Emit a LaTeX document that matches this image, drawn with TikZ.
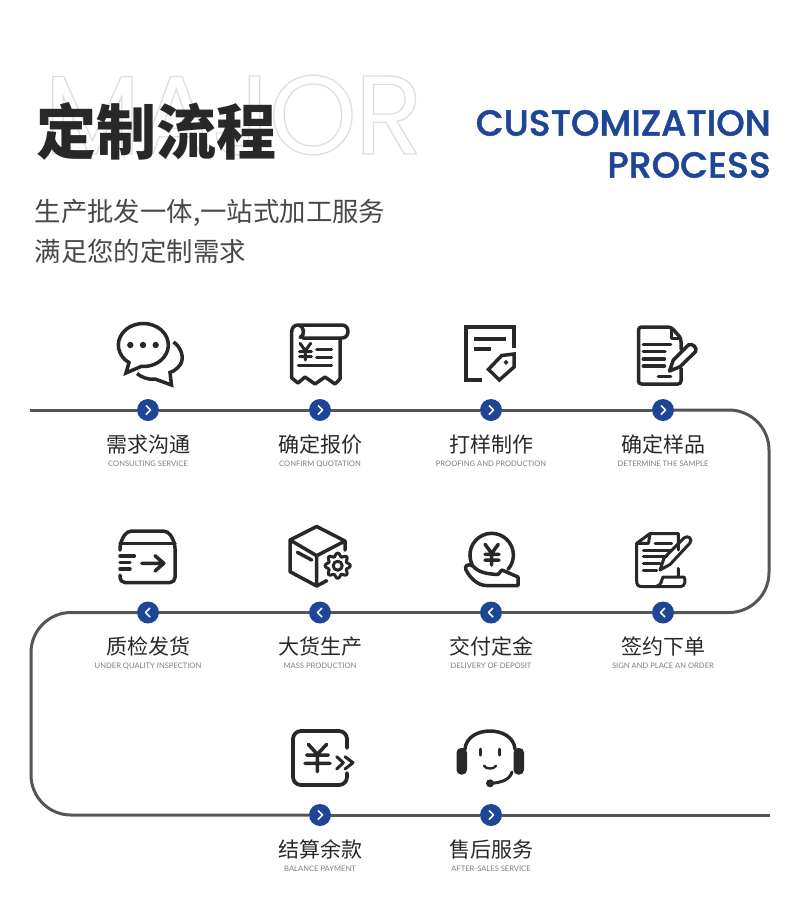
\documentclass[tikz,border=0pt]{standalone}
\usepackage{fontspec}
\setmainfont{Noto Sans CJK SC}
\newfontfamily\popfont{Poppins}[LetterSpace=-2]
\newfontfamily\popmed{Poppins Medium}[FakeBold=1.3]
\newfontfamily\latofont{Lato}
\usetikzlibrary{calc,positioning}
\definecolor{cblue}{RGB}{31,70,150}
\definecolor{cink}{RGB}{40,40,40}
\definecolor{ctrack}{RGB}{85,85,85}
\definecolor{cgrey}{RGB}{125,125,125}
\newcommand{\outlined}[1]{\special{pdf: code q 1 Tr 1.3 w 0.87 0.87 0.87 RG}#1\special{pdf: code Q}}
\tikzset{
  title/.style={anchor=west,inner sep=0pt,font=\fontsize{60}{60}\selectfont\bfseries,text=cink},
  subline/.style={anchor=west,inner sep=0pt,font=\fontsize{26.4}{26.4}\selectfont,text=cink!85},
  entitle/.style={anchor=east,inner sep=0pt,font=\fontsize{36.2}{36.2}\popmed,text=cblue},
  % dots on the track: chevron points the way the track runs
  dotr/.style={circle,fill=cblue,minimum size=22pt,inner sep=0pt,
    path picture={\draw[white,line width=1.7pt,line join=round]
      ($(path picture bounding box.center)+(-2,-4.5)$) -- ++(4.5,4.5) -- ++(-4.5,4.5);}},
  dotl/.style={circle,fill=cblue,minimum size=22pt,inner sep=0pt,
    path picture={\draw[white,line width=1.7pt,line join=round]
      ($(path picture bounding box.center)+(2,-4.5)$) -- ++(-4.5,4.5) -- ++(4.5,4.5);}},
  zhlab/.style={inner sep=0pt,text height=18pt,text depth=3pt,font=\fontsize{21}{21}\selectfont,text=cink},
  enlab/.style={inner sep=0pt,text height=5.5pt,text depth=0pt,font=\fontsize{7.6}{7.6}\latofont,text=cgrey},
  track/.style={draw=ctrack,line width=3pt,rounded corners=40pt},
  icon/.style={draw=cink,line width=3.5pt,line cap=round,line join=round},
  thinicon/.style={icon,line width=3pt},
  iconf/.style={fill=cink,draw=none}
}
\begin{document}
\begin{tikzpicture}[x=1pt,y=-1pt]
  \useasboundingbox (0,0) rectangle (800,922);
  % heading
  \node[anchor=west,inner sep=0pt,font=\fontsize{112}{112}\popfont] (major) at (44,115)
    {\outlined{MAJOR}};
  \node[title] (head) at (36,131) {定制流程};
  \node[entitle] (en1) at (771,123) {CUSTOMIZATION};
  \node[entitle] (en2) at (771,165) {PROCESS};
  \node[subline] (sub1) at (34.5,212.5) {生产批发一体,一站式加工服务};
  \node[subline] (sub2) at (34.5,251.5) {满足您的定制需求};

  % first row
  \node[dotr] (d1) at (148,410) {};
  \node[zhlab, below=13pt of d1] (z1) {需求沟通};
  \node[enlab, below=5pt of z1] (e1) {CONSULTING SERVICE};
  \node[dotr] (d2) at (320,410) {};
  \node[zhlab, below=13pt of d2] (z2) {确定报价};
  \node[enlab, below=5pt of z2] (e2) {CONFIRM QUOTATION};
  \node[dotr] (d3) at (491,410) {};
  \node[zhlab, below=13pt of d3] (z3) {打样制作};
  \node[enlab, below=5pt of z3] (e3) {PROOFING AND PRODUCTION};
  \node[dotr] (d4) at (663,410) {};
  \node[zhlab, below=13pt of d4] (z4) {确定样品};
  \node[enlab, below=5pt of z4] (e4) {DETERMINE THE SAMPLE};
  % second row, right to left
  \node[dotl] (d5) at (663,612.5) {};
  \node[zhlab, below=13pt of d5] (z5) {签约下单};
  \node[enlab, below=5pt of z5] (e5) {SIGN AND PLACE AN ORDER};
  \node[dotl] (d6) at (491,612.5) {};
  \node[zhlab, below=13pt of d6] (z6) {交付定金};
  \node[enlab, below=5pt of z6] (e6) {DELIVERY OF DEPOSIT};
  \node[dotl] (d7) at (320,612.5) {};
  \node[zhlab, below=13pt of d7] (z7) {大货生产};
  \node[enlab, below=5pt of z7] (e7) {MASS PRODUCTION};
  \node[dotl] (d8) at (148,612.5) {};
  \node[zhlab, below=13pt of d8] (z8) {质检发货};
  \node[enlab, below=5pt of z8] (e8) {UNDER QUALITY INSPECTION};
  % third row
  \node[dotr] (d9) at (320,815) {};
  \node[zhlab, below=13pt of d9] (z9) {结算余款};
  \node[enlab, below=5pt of z9] (e9) {BALANCE PAYMENT};
  \node[dotr] (d10) at (491,815) {};
  \node[zhlab, below=13pt of d10] (z10) {售后服务};
  \node[enlab, below=5pt of z10] (e10) {AFTER-SALES SERVICE};

  % track
  \coordinate (tstart) at (30,410);
  \coordinate (tend) at (770,815);
  \coordinate (ctr) at (769,410);
  \coordinate (cr) at (769,612.5);
  \coordinate (cl) at (31,612.5);
  \coordinate (cb) at (31,815);
  \draw[track] (tstart) -- (d1);
  \draw[track] (d1) -- (d2);
  \draw[track] (d2) -- (d3);
  \draw[track] (d3) -- (d4);
  \draw[track] (d4) -- (ctr) -- (cr) -- (d5);
  \draw[track] (d5) -- (d6);
  \draw[track] (d6) -- (d7);
  \draw[track] (d7) -- (d8);
  \draw[track] (d8) -- (cl) -- (cb) -- (d9);
  \draw[track] (d9) -- (d10);
  \draw[track] (d10) -- (tend);

  % chat
  \draw[icon,line join=miter] (129,362.6) arc[start angle=235,end angle=-95,x radius=25pt,y radius=21.5pt] -- (126,373) -- cycle;
  \draw[icon,line join=miter,line cap=butt] (173.5,342) .. controls (181,347) and (185,358) .. (180,365) .. controls (177,369) and (174,371) .. (170,372.5) -- (171.5,385) -- (155,379) .. controls (148,380) and (141,377) .. (137,373.5);
  \fill[iconf] (130.3,345) circle[radius=3.2pt] (143,345) circle[radius=3.2pt] (155.7,345) circle[radius=3.2pt];
  % receipt
  \draw[icon] (291.7,378) -- (291.7,332) .. controls (291.7,328) and (294,325) .. (298,325) -- (342,325) .. controls (350,325) and (350,338) .. (342,338) -- (303,338) (298,325) .. controls (305,326) and (305,336) .. (300,337.5);
  \draw[icon] (340,338) -- (340,379) -- (335,384) -- (325,377) -- (315,384) -- (305,377) -- (298,383) -- (291.7,378);
  \draw[thinicon] (300,343.3) -- (305.3,350.7) -- (310.7,343.3) (299.5,351.7) -- (311.5,351.7) (299.5,356.7) -- (311.5,356.7) (305.3,350.7) -- (305.3,360);
  \draw[thinicon] (316.7,349.3) -- (331.7,349.3) (316.7,357.7) -- (331.7,357.7) (298.3,365) -- (331.7,365);
  % sheet with tag
  \draw[icon,line width=4pt,line join=miter,line cap=butt] (514,348.3) -- (514,327) -- (466,327) -- (466,380) -- (481.7,380);
  \draw[icon,line width=4pt,line cap=butt] (474.3,339.3) -- (505.7,339.3) (474.3,349) -- (491,349);
  \draw[icon,line width=3.5pt,line join=miter] (514,354) -- (514,367) -- (499.3,380) -- (488.5,369.3) -- (501.7,355.5) -- cycle;
  \fill[iconf] (506,359.8) -- (508.5,362.3) -- (506,364.8) -- (503.5,362.3) -- cycle;
  % document with pen
  \draw[icon,rounded corners=3pt] (681,349) -- (681,338.3) -- (671,327) -- (638.5,327) -- (638.5,384) -- (681,384) -- (681,368);
  \draw[thinicon] (671.7,327.5) -- (671.7,338.3) -- (680.5,338.3);
  \draw[icon] (643.3,344.3) -- (670.7,344.3) (643.3,351.7) -- (665,351.7) (643.3,359) -- (664.3,359) (643.3,366) -- (664.3,366) (658.3,376.7) -- (670.7,376.7);
  \draw[icon] (669.5,371) -- (673.3,360) -- (688.3,345) .. controls (692,342.5) and (698,348) .. (695.5,351.7) -- (680,366.7) -- cycle;

  % box with arrow
  \draw[icon,rounded corners=5pt] (120,550) -- (120,543.3) -- (126.7,531) -- (168.3,531) -- (175,543.3) -- (175,582.5) -- (120,582.5) -- (120,575);
  \draw[icon] (120,543.3) -- (175,543.3) (120,556) -- (134.3,556) (120,562.7) -- (130,562.7) (120,569) -- (130,569);
  \draw[icon] (141.7,563.3) -- (163.3,563.3) (155,555.7) -- (163.8,563.3) -- (155,571);
  % box with gear
  \draw[icon] (345,550) -- (345,541) -- (316.7,526.5) -- (290,540) -- (290,571.7) -- (316.7,586) -- (326.7,580.7) (290,540) -- (316.7,555.7) -- (345,541) (316.7,555.7) -- (316.7,586) (297.3,552.3) -- (311.7,560);
  \draw[thinicon] plot[samples=97,domain=0:360] ({337.7+(11+1.6*cos(8*\x))*cos(\x)},{565.7+(11+1.6*cos(8*\x))*sin(\x)});
  \draw[thinicon] (337.7,565.7) circle[radius=4.5pt];
  % hand with coin
  \draw[icon] (472,564.2) arc[start angle=205,end angle=-41,radius=21.7pt];
  \draw[icon] (485,544.3) -- (491.7,553.3) -- (498.3,544.3) (485,554.3) -- (499,554.3) (485,560) -- (499,560) (491.7,553.3) -- (491.7,565);
  \draw[icon] (518,585.5) -- (486,585.5) .. controls (478,585.5) and (470,578) .. (466,570) .. controls (464,566) and (468,563) .. (473,566) .. controls (478,572) and (486,574) .. (498,574.5) -- (502,570) -- (518,577) -- cycle;
  % contract with pen
  \draw[thinicon] (678.3,550) -- (678.3,533.5) -- (650,533.5) -- (636.7,543.3) -- (636.7,581) .. controls (636.7,585) and (638,586.5) .. (642,586.5) -- (681,586.5) .. controls (685,586.5) and (686,580) .. (684,577) -- (663,577) .. controls (661,581) and (662,585) .. (656,586.5) (650,533.5) -- (648.5,543.3) -- (636.7,543.3) (678.3,568.3) -- (678.3,577);
  \draw[thinicon] (655,543.3) -- (671.7,543.3) (643.3,550) -- (671.7,550) (643.3,556.7) -- (666.7,556.7) (643.3,563.3) -- (660,563.3) (643.3,570) -- (656.7,570);
  \draw[thinicon] (660,570) -- (664,558) -- (684,538) .. controls (688,534.5) and (693,539) .. (690,543) -- (670,564.5) -- cycle;

  % yen with chevrons
  \draw[icon,line width=3.8pt,rounded corners=8pt,line cap=round] (347,748) -- (347,731) -- (293,731) -- (293,785) -- (347,785) -- (347,773);
  \draw[icon] (308.3,744.3) -- (317.3,754.3) -- (326.7,744.3) (306.7,755) -- (328.3,755) (305,763.3) -- (330,763.3) (317.3,754.3) -- (317.3,771.7);
  \draw[thinicon] (336.7,756.7) -- (343.3,762.7) -- (336.7,769) (345,756.7) -- (353,762.7) -- (345,769);
  % headset
  \fill[iconf,rounded corners=4.5pt] (456.5,748) rectangle (467,774.5) (513.5,748) rectangle (524,774.5);
  \draw[icon] (465,749) .. controls (467,725) and (513,725) .. (515,749);
  \draw[thinicon] (512,772) .. controls (510,780) and (500,783) .. (490,783.3);
  \fill[iconf] (490,783.3) circle[radius=4pt];
  \draw[thinicon] (480.7,749) -- (480.7,755) (499.3,749) -- (499.3,755);
  \draw[icon,line width=2.4pt] (484,765.7) .. controls (486,769.5) and (494,769.5) .. (496,765.7);
\end{tikzpicture}
\end{document}
